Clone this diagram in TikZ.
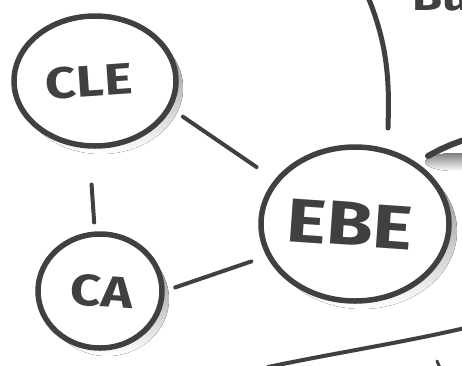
\documentclass[tikz,border=0pt]{standalone}
\usepackage{fontspec}
\setmainfont{Fira Sans}
\newfontfamily\hand[FakeStretch=1.22]{Fira Sans}
\usetikzlibrary{calc,shapes.geometric}
\definecolor{ink}{HTML}{404040}
\definecolor{shade}{HTML}{A8C8EA}
\tikzset{
  bubble/.style={draw=ink, line width=5.5pt, fill=white, ellipse, inner sep=0pt, text=ink},
  link/.style={draw=ink, line width=4pt, line cap=round},
}
\begin{document}
\begin{tikzpicture}[x=1pt,y=-1pt]
\useasboundingbox (0,0) rectangle (462,365);
\clip (0,0) rectangle (462,365);
% shadows
\fill[shade] (101,88) ellipse [x radius=82, y radius=66];
\fill[shade] (107,299) ellipse [x radius=62, y radius=57];
\fill[shade] (362,231) ellipse [x radius=95, y radius=78];
% right partial circle shadow + stroke
\fill[shade] (455,162) ellipse [x radius=30, y radius=9];
\coordinate (r1) at (428,156);
\coordinate (r2) at (464,140);
\draw[link, line width=6pt] (r1) to[bend left=5] (r2);
% curves
\coordinate (t1) at (368,-3);
\coordinate (t2) at (388,128);
\draw[link, line width=5pt] (t1) .. controls (390,50) and (389,90) .. (t2);
\coordinate (b1) at (268,367);
\coordinate (b2) at (465,328);
\draw[link] (b1) .. controls (340,352) and (400,343) .. (b2);
\coordinate (m1) at (437,361);
\coordinate (m2) at (440,368);
\draw[link, line width=3pt] (m1) -- (m2);
% nodes
\node[bubble, minimum width=162pt, minimum height=130pt] (cle) at (95,81)
  {\hspace*{-12pt}\raisebox{-5pt}{\hand\bfseries\fontsize{44}{44}\selectfont\rotatebox{4}{CLE}}};
\node[bubble, minimum width=124pt, minimum height=114pt] (ca) at (100,291)
  {\hspace*{4pt}\raisebox{-3pt}{\hand\bfseries\fontsize{44}{44}\selectfont\rotatebox{-4}{CA}}};
\node[bubble, minimum width=188pt, minimum height=154pt] (ebe) at (355,224)
  {\hspace*{-10pt}\raisebox{3pt}{\hand\bfseries\fontsize{62}{62}\selectfont\rotatebox{-4}{EBE}}};
\draw[link] (cle.-20) -- (ebe.151) [shorten <=14pt, shorten >=22pt];
\draw[link, shorten <=36pt, shorten >=9pt] (cle.-95) -- (ca.95);
\draw[link, shorten <=11pt, shorten >=16pt] (ca.0) -- (ebe.200);
% partial text at top right
\node[text=ink, font=\hand\bfseries\fontsize{40}{40}\selectfont, anchor=base west, inner sep=0pt] (bt) at (412,10) {Bu};
\end{tikzpicture}
\end{document}
